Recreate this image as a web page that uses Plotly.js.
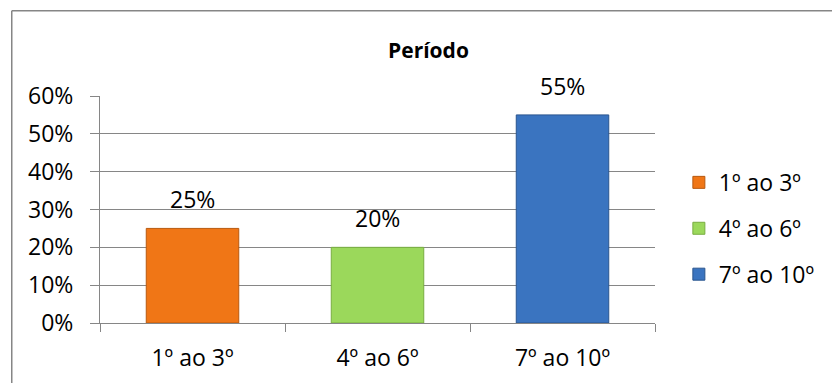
<!DOCTYPE html>
<html>
<head>
<meta charset="utf-8">
<script src="https://cdn.plot.ly/plotly-3.0.1.min.js"></script>
<style>html,body{margin:0;padding:0;background:#fff;}#chart{width:832px;height:383px;}</style>
</head>
<body>
<div id="chart"></div>
<script>
const categories = ["1º ao 3º", "4º ao 6º", "7º ao 10º"];
const values = [0.25, 0.20, 0.55];
const valueLabels = ["25%", "20%", "55%"];
const colors = ["#F07616", "#9BD85B", "#3A74C0"];
const edgeColors = ["#B8590F", "#78AD40", "#2A558E"];
const yTickVals = [0, 0.1, 0.2, 0.3, 0.4, 0.5, 0.6];
const yTickText = ["0%", "10%", "20%", "30%", "40%", "50%", "60%"];
const titleText = "Período";

const FONT = "'Open Sans', sans-serif";

const traces = categories.map((c, i) => ({
  type: "bar",
  x: [c],
  y: [values[i]],
  name: c,
  legendgroup: "g" + i,
  width: 0.5,
  marker: { color: colors[i], line: { color: edgeColors[i], width: 1 } },
  hoverinfo: "skip"
}));

const annotations = categories.map((c, i) => ({
  x: c, y: values[i], xref: "x", yref: "y",
  text: valueLabels[i], showarrow: false,
  yanchor: "bottom", yshift: 11,
  font: { family: FONT, size: 23, color: "#000" }
}));

const layout = {
  width: 832, height: 383,
  margin: { l: 100, r: 177, t: 95.5, b: 60 },
  paper_bgcolor: "#fff", plot_bgcolor: "#fff",
  barmode: "overlay",
  showlegend: true,
  title: {
    text: "<b>" + titleText + "</b>",
    xref: "container", yref: "container",
    x: 0.515, xanchor: "center", y: 0.869, yanchor: "middle",
    font: { family: FONT, size: 21, color: "#000" }
  },
  xaxis: {
    type: "category",
    tickson: "boundaries",
    ticks: "outside", ticklen: 8, tickcolor: "#868686", tickwidth: 1,
    showline: true, linecolor: "#868686", linewidth: 1,
    showgrid: false, zeroline: false,
    ticklabelstandoff: 14,
    tickfont: { family: FONT, size: 23, color: "#000" },
    fixedrange: true
  },
  yaxis: {
    range: [0, 0.6],
    tickvals: yTickVals, ticktext: yTickText,
    ticks: "outside", ticklen: 9, tickcolor: "#868686", tickwidth: 1,
    showline: true, linecolor: "#868686", linewidth: 1,
    showgrid: true, gridcolor: "#868686", gridwidth: 1,
    zeroline: false,
    ticklabelstandoff: 12,
    tickfont: { family: FONT, size: 23, color: "#000" },
    fixedrange: true
  },
  legend: {
    x: 1.043, xanchor: "left", y: 0.714, yanchor: "top",
    font: { family: FONT, size: 23, color: "#000" },
    tracegroupgap: 13,
    bgcolor: "rgba(0,0,0,0)", borderwidth: 0
  },
  annotations: annotations,
  shapes: [
    { type: "line", xref: "paper", yref: "paper", x0: -0.159, x1: -0.159, y0: -0.3, y1: 1.376, line: { color: "#868686", width: 1.5 } },
    { type: "line", xref: "paper", yref: "paper", x0: -0.159, x1: 1.4, y0: 1.376, y1: 1.376, line: { color: "#868686", width: 1.5 } }
  ]
};

Plotly.newPlot("chart", traces, layout, { displayModeBar: false, staticPlot: true });
</script>
</body>
</html>
